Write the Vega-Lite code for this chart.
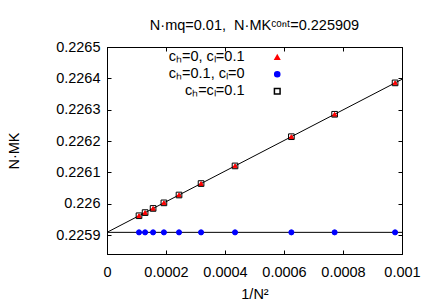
{
  "$schema": "https://vega.github.io/schema/vega-lite/v6.json",
  "width": 295,
  "height": 207,
  "autosize": "none",
  "padding": {"left": 107, "top": 47, "right": 27, "bottom": 47},
  "background": "white",
  "title": {"text": "N·mq=0.01,\u00a0 N·MKᶜᵒⁿᵗ=0.225909", "fontSize": 14.5, "font": "Liberation Sans", "fontWeight": "normal", "color": "black", "offset": 6, "anchor": "middle"},
  "config": {
    "view": {"stroke": "black", "strokeWidth": 1},
    "font": "Liberation Sans",
    "axis": {
      "domainColor": "black",
      "tickColor": "black",
      "tickSize": -4,
      "grid": false,
      "labelFont": "Liberation Sans",
      "labelFontSize": 14.5,
      "labelColor": "black",
      "titleFont": "Liberation Sans",
      "titleFontSize": 14.5,
      "titleFontWeight": "normal",
      "titleColor": "black"
    }
  },
  "datasets": {
    "lines": [
      {"line": "fit", "x": 0, "y": 0.225909},
      {"line": "fit", "x": 0.001, "y": 0.226397},
      {"line": "const", "x": 0, "y": 0.225909},
      {"line": "const", "x": 0.001, "y": 0.225909}
    ],
    "points": [
      {"series": "cₕ=0, cₗ=0.1", "x": 0.0009765625, "y": 0.2263856},
      {"series": "cₕ=0, cₗ=0.1", "x": 0.000771605, "y": 0.2262855},
      {"series": "cₕ=0, cₗ=0.1", "x": 0.000625, "y": 0.226214},
      {"series": "cₕ=0, cₗ=0.1", "x": 0.000434028, "y": 0.2261208},
      {"series": "cₕ=0, cₗ=0.1", "x": 0.000318878, "y": 0.2260646},
      {"series": "cₕ=0, cₗ=0.1", "x": 0.000244141, "y": 0.2260281},
      {"series": "cₕ=0, cₗ=0.1", "x": 0.000192901, "y": 0.2260031},
      {"series": "cₕ=0, cₗ=0.1", "x": 0.00015625, "y": 0.2259853},
      {"series": "cₕ=0, cₗ=0.1", "x": 0.000129132, "y": 0.225972},
      {"series": "cₕ=0, cₗ=0.1", "x": 0.000108507, "y": 0.225962},
      {"series": "cₕ=0.1, cₗ=0", "x": 0.0009765625, "y": 0.225909},
      {"series": "cₕ=0.1, cₗ=0", "x": 0.000771605, "y": 0.225909},
      {"series": "cₕ=0.1, cₗ=0", "x": 0.000625, "y": 0.225909},
      {"series": "cₕ=0.1, cₗ=0", "x": 0.000434028, "y": 0.225909},
      {"series": "cₕ=0.1, cₗ=0", "x": 0.000318878, "y": 0.225909},
      {"series": "cₕ=0.1, cₗ=0", "x": 0.000244141, "y": 0.225909},
      {"series": "cₕ=0.1, cₗ=0", "x": 0.000192901, "y": 0.225909},
      {"series": "cₕ=0.1, cₗ=0", "x": 0.00015625, "y": 0.225909},
      {"series": "cₕ=0.1, cₗ=0", "x": 0.000129132, "y": 0.225909},
      {"series": "cₕ=0.1, cₗ=0", "x": 0.000108507, "y": 0.225909},
      {"series": "cₕ=cₗ=0.1", "x": 0.0009765625, "y": 0.2263856},
      {"series": "cₕ=cₗ=0.1", "x": 0.000771605, "y": 0.2262855},
      {"series": "cₕ=cₗ=0.1", "x": 0.000625, "y": 0.226214},
      {"series": "cₕ=cₗ=0.1", "x": 0.000434028, "y": 0.2261208},
      {"series": "cₕ=cₗ=0.1", "x": 0.000318878, "y": 0.2260646},
      {"series": "cₕ=cₗ=0.1", "x": 0.000244141, "y": 0.2260281},
      {"series": "cₕ=cₗ=0.1", "x": 0.000192901, "y": 0.2260031},
      {"series": "cₕ=cₗ=0.1", "x": 0.00015625, "y": 0.2259853},
      {"series": "cₕ=cₗ=0.1", "x": 0.000129132, "y": 0.225972},
      {"series": "cₕ=cₗ=0.1", "x": 0.000108507, "y": 0.225962}
    ]
  },
  "resolve": {"axis": {"x": "independent", "y": "independent"}},
  "layer": [
    {
      "data": {"name": "lines"},
      "mark": {"type": "line", "color": "black", "strokeWidth": 1, "clip": true},
      "encoding": {
        "x": {"field": "x", "type": "quantitative", "scale": {"domain": [0, 0.001], "nice": false, "zero": false},
              "axis": {"orient": "bottom", "title": "1/N²", "values": [0, 0.0002, 0.0004, 0.0006, 0.0008, 0.001], "format": "~g", "labelPadding": 15, "titlePadding": 9, "labelFlush": false}},
        "y": {"field": "y", "type": "quantitative", "scale": {"domain": [0.22584, 0.2265], "nice": false, "zero": false},
              "axis": {"orient": "left", "title": "N·MK", "values": [0.2259, 0.226, 0.2261, 0.2262, 0.2263, 0.2264, 0.2265], "format": "~g", "labelPadding": 11, "titlePadding": 34}},
        "detail": {"field": "line", "type": "nominal"}
      }
    },
    {
      "data": {"name": "points"},
      "mark": {"type": "point", "opacity": 1, "strokeWidth": 1},
      "encoding": {
        "x": {"field": "x", "type": "quantitative", "scale": {"domain": [0, 0.001], "nice": false, "zero": false}, "axis": null},
        "y": {"field": "y", "type": "quantitative", "scale": {"domain": [0.22584, 0.2265], "nice": false, "zero": false}, "axis": null},
        "shape": {"field": "series", "type": "nominal",
                  "scale": {"domain": ["cₕ=0, cₗ=0.1", "cₕ=0.1, cₗ=0", "cₕ=cₗ=0.1"], "range": ["triangle-up", "circle", "square"]},
                  "legend": {"orient": "none", "legendX": 163, "legendY": 3, "title": null, "labelAlign": "right", "labelOffset": -40, "labelFontSize": 14.5, "labelFont": "Liberation Sans", "labelColor": "black", "padding": 0, "rowPadding": 2, "labelLimit": 300}},
        "fill": {"field": "series", "type": "nominal",
                 "scale": {"domain": ["cₕ=0, cₗ=0.1", "cₕ=0.1, cₗ=0", "cₕ=cₗ=0.1"], "range": ["#ff0000", "#0000ff", "transparent"]}},
        "stroke": {"field": "series", "type": "nominal",
                   "scale": {"domain": ["cₕ=0, cₗ=0.1", "cₕ=0.1, cₗ=0", "cₕ=cₗ=0.1"], "range": ["#ff0000", "#0000ff", "#000000"]}},
        "size": {"field": "series", "type": "nominal",
                 "scale": {"domain": ["cₕ=0, cₗ=0.1", "cₕ=0.1, cₗ=0", "cₕ=cₗ=0.1"], "range": [20, 32, 49]}}
      }
    },
    {
      "data": {"name": "lines"},
      "mark": {"type": "line", "opacity": 0},
      "encoding": {
        "x": {"field": "x", "type": "quantitative", "scale": {"domain": [0, 0.001], "nice": false, "zero": false},
              "axis": {"orient": "top", "title": null, "labels": false, "values": [0, 0.0002, 0.0004, 0.0006, 0.0008, 0.001]}},
        "y": {"field": "y", "type": "quantitative", "scale": {"domain": [0.22584, 0.2265], "nice": false, "zero": false},
              "axis": {"orient": "right", "title": null, "labels": false, "values": [0.2259, 0.226, 0.2261, 0.2262, 0.2263, 0.2264, 0.2265]}},
        "detail": {"field": "line", "type": "nominal"}
      }
    }
  ]
}
